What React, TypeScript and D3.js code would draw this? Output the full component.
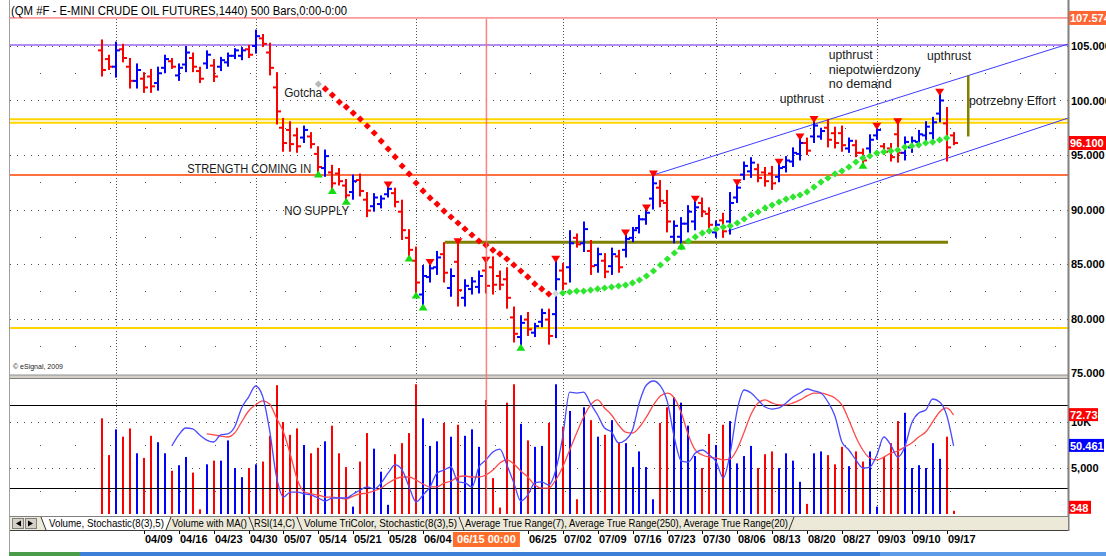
import React from 'react';
import * as d3 from 'd3';

// ---------- DATA ----------
const high = [105.6,104.2,105.4,105.2,103.9,103.4,102.6,102.9,103.1,104.2, 103.9,103.4,105.0,104.4,103.1,104.6,103.8,104.0,104.4,104.8, 104.9,105.1,106.5,106.1,105.3,102.6,98.4,98.1,97.5,97.7, 97.1,95.8,95.5,94.1,93.8,92.8,93.2,93.3,91.6,91.5, 91.3,92.2,92.0,90.9,88.2,86.6,84.9,85.1,86.2,87.0, 84.6,87.0,83.6,83.8,84.4,85.3,85.7,84.4,84.7,81.1, 80.3,80.6,79.6,80.9,80.9,85.4,85.1,88.1,87.8,88.9, 87.2,86.5,86.0,86.5,86.3,87.8,88.4,89.5,90.1,93.2, 92.7,91.8,89.0,89.3,90.4,90.9,91.1,90.2,89.0,89.7, 91.6,92.4,94.4,94.8,94.2,93.9,94.0,94.3,94.9,95.7, 96.6,96.6,98.2,97.5,98.3,97.6,97.7,96.6,96.4,95.6, 96.9,97.6,96.1,96.1,98.0,96.7,96.7,97.3,98.1,98.5, 100.7,99.4,97.1];
const low = [102.2,102.8,102.1,103.5,101.1,101.1,100.7,100.7,100.9,102.5, 102.9,101.8,102.6,102.6,101.6,102.9,101.7,102.7,103.1,103.8, 103.7,103.9,104.3,104.9,102.3,97.8,95.3,95.3,95.2,96.1, 95.6,93.3,93.0,91.8,92.2,90.8,90.9,91.2,89.3,89.8, 90.1,91.1,90.2,87.2,85.6,82.2,81.1,83.3,84.0,83.3, 82.0,81.1,81.1,82.2,82.3,82.3,82.2,82.6,80.9,77.8, 77.4,78.4,78.3,79.2,77.6,78.2,82.6,83.3,86.5,86.1, 84.0,84.2,83.7,84.0,84.2,85.6,87.0,87.8,88.6,90.0, 90.2,87.9,86.9,86.7,87.9,88.1,89.3,88.1,87.4,87.4, 87.7,90.6,92.7,92.9,92.5,92.1,91.8,92.5,93.4,93.9, 94.5,95.0,96.1,96.4,95.7,95.6,95.3,95.2,94.8,94.1, 95.0,96.4,95.0,94.4,94.3,94.5,95.2,95.7,96.2,96.4, 98.0,94.4,95.9];
const open = [104.6,103.8,103.1,104.7,103.1,101.8,102.0,102.2,101.6,103.0, 103.6,102.3,103.3,103.9,102.7,103.4,103.2,103.1,103.5,104.1, 104.1,104.7,105.0,105.7,104.4,101.2,97.5,97.3,96.8,96.6, 96.7,95.1,93.8,93.4,93.3,92.2,91.6,92.7,90.9,90.3, 90.5,91.4,91.5,89.8,87.4,85.3,82.2,83.8,84.7,85.9, 82.8,85.2,81.9,82.7,82.9,84.4,84.7,83.9,83.6,80.1, 78.3,79.9,78.7,79.7,79.9,80.4,84.4,84.7,87.4,86.9, 86.2,84.9,85.3,84.8,85.7,86.3,87.4,88.3,89.1,91.0, 92.0,90.6,87.5,87.5,88.7,88.9,90.6,89.6,87.9,89.0, 88.9,91.1,93.2,93.5,93.7,93.4,93.3,93.0,93.9,94.4, 95.1,96.1,96.7,96.7,97.5,97.0,97.0,95.6,95.9,95.2, 95.6,96.8,95.8,95.6,96.9,95.2,95.7,96.2,96.8,97.0, 98.8,97.9,96.8];
const close = [102.8,103.1,104.6,103.9,101.8,102.8,101.2,101.3,102.5,103.8, 103.1,103.0,104.4,103.1,102.0,104.2,102.2,103.7,104.1,104.6, 104.6,104.2,105.9,105.2,103.0,99.0,96.1,96.0,95.8,97.3, 96.0,93.9,94.9,92.4,92.6,91.3,92.6,91.7,89.9,91.1, 91.0,91.9,90.7,88.1,86.3,83.3,83.9,84.6,85.6,84.2, 83.9,82.6,83.0,83.4,83.9,83.0,83.1,83.1,81.9,78.6, 79.6,79.0,79.3,80.5,78.4,83.6,83.2,86.9,86.8,88.2, 84.8,85.9,84.3,85.9,84.7,87.3,88.1,89.1,89.7,92.4, 90.8,88.9,88.5,88.7,89.8,90.2,89.8,88.6,88.6,88.0, 90.6,92.0,94.0,94.3,92.9,92.6,92.4,93.8,94.5,95.2, 96.1,95.4,97.7,97.2,96.4,96.1,95.9,96.3,95.2,94.5, 96.4,97.3,95.3,94.8,95.2,96.2,96.3,96.9,97.6,98.0, 100.0,95.7,96.1];
const volume = [10400,6400,9200,8400,9300,6600,6100,8500,7800,6600, 4700,5300,6200,4500,500,5400,5800,5800,8000,5000, 4000,5000,5400,5700,8500,14000,10000,8600,9300,7500, 6600,7200,7900,9600,6600,5100,800,5700,8800,7100, 4600,1000,6500,7700,8800,14100,10400,7400,7900,9900, 8400,9700,8500,9200,7300,12400,3900,700,12100,14100, 9800,8000,7300,7400,9900,14100,9500,11200,1600,11600, 10200,8400,8600,10200,7800,7700,5100,6800,5100,1600, 9900,11600,12700,12100,9600,6300,5000,8700,7500,9700, 10100,5500,6300,7400,5000,6500,6800,5000,6600,5800, 3500,1100,6600,6800,6400,5400,7300,5200,6800,5700, 6800,800,6200,7700,10100,11000,5000,5300,5000,7700, 6000,8400,348];
const stochKStart = 10;
const stochK = [50.4,58.4,63.4,62.7,58.4,54.7,53.3,58.4,59.1,64.1, 77.9,85.8,93.8,86.6,62.0,28.0,13.5,17.1,17.1,15.7, 14.9,12.8,10.6,12.8,12.8,12.8,15.7,18.6,20.8,19.3, 23.7,30.9,36.7,33.0,20.8,9.9,15.0,20.8,30.9,33.0, 35.2,24.4,23.7,20.8,35.2,40.3,46.1,48.2,36.7,23.7, 10.6,15.0,23.7,24.4,22.2,33.0,56.9,89.4,88.7,89.4, 80.8,72.8,63.4,60.5,52.6,54.7,62.0,82.2,94.5,97.4, 93.8,82.2,56.2,39.5,38.8,45.3,47.5,43.9,38.8,27.3, 45.3,76.4,90.9,88.7,83.7,78.6,77.1,77.9,81.5,85.8, 88.7,91.6,90.2,88.7,82.2,72.1,53.3,47.5,40.3,34.5, 35.2,43.9,56.9,51.1,42.4,49.7,67.0,74.3,76.4,84.4, 82.2,72.8,50.461];
const stochDStart = 15;
const stochD = [59.1,58.4,57.6,56.9,59.8, 67.8,75.7,80.1,83.0,80.8,70.6,60.5,43.9,25.8,17.1, 15.7,14.9,13.5,13.5,12.8,12.1,14.2,15.7,16.4,17.9, 20.0,23.6,26.5,28.0,28.0,25.8,22.9,20.8,20.8,23.6, 25.1,28.0,28.7,28.0,28.0,29.4,33.0,38.1,40.3,37.4, 32.3,28.0,22.2,20.0,20.0,25.8,35.2,47.5,59.8,71.4, 80.1,83.7,77.9,72.8,65.6,60.5,59.8,64.1,71.4,80.1, 86.6,88.7,85.1,74.3,58.4,47.5,43.9,42.4,41.7,40.3, 41.0,48.2,60.5,73.5,81.5,83.7,81.5,80.1,80.1,81.5, 83.7,86.6,88.7,88.7,87.3,85.1,80.1,69.2,56.9,47.5, 41.7,40.3,42.4,45.3,46.8,49.7,52.6,56.9,60.5,67.8, 75.0,77.9,72.73];
const redDiamondStart = 32;
const redDiamonds = [101.06,100.50,99.86,99.40,98.85,98.30,97.66,97.02,96.28,95.55, 94.82,93.99,93.26,92.43,91.70,91.06,90.50,89.86,89.31,88.76, 88.21,87.66,87.11,86.74,86.28,85.92,85.46,84.91,84.36,83.81, 83.17,82.71,82.25];
const grayDiamonds = [[31, 101.51], [65, 82.3]];
const greenDiamondStart = 66;
const greenDiamonds = [82.34,82.43,82.52,82.52,82.61,82.71,82.80,82.89,82.98,83.07, 83.26,83.53,83.90,84.36,84.91,85.46,86.01,86.56,87.11,87.48, 87.84,88.03,88.21,88.39,88.49,88.76,89.13,89.50,89.77,90.14, 90.41,90.69,90.96,91.15,91.33,91.61,92.06,92.52,92.89,93.26, 93.53,93.90,94.36,94.72,94.91,95.18,95.28,95.37,95.46,95.73, 95.83,95.92,96.10,96.19,96.38,96.56];
const sellSignalBars = [41,47,51,55,65,75,78,79,85,91,97,100,102,111,114,120];
const buySignalBars = [31,33,35,44,45,46,60,83,109];
const tickLabels = ['04/09','04/16','04/23','04/30','05/07','05/14','05/21','05/28','06/04','06/25','07/02','07/09','07/16','07/23','07/30','08/06','08/13','08/20','08/27','09/03','09/10','09/17'];
const tickBars = [6,11,16,21,26,31,36,41,46,61,66,71,76,81,86,91,96,101,106,111,116,121];
const monthStartBars = [2,22,45,66,88,111];
const priceTicks = [105,100,95,90,85,80,75];
const priceMinor = [102.5,97.5,92.5,87.5,82.5,77.5];
const volTicks = [10000,5000];
const volMinor = [7500,2500];
const lastPrice = 96.1;
const topPrice = 107.574;
const purpleLevel = 105.09;
const yellowLevels = [98.28, 97.97, 79.13];
const orangeLevel = 93.17;
const oliveLevel = { from: 49.1, to: 121.2, price: 87.0 };
const oliveEffort = { bar: 124.1, from: 102.3, to: 96.7 };
const channelUpper = [[79, 93.17], [138.4, 105.18]];
const channelLower = [[89.7, 88.03], [138.4, 98.39]];
const crosshairBar = 55;
const annotations = [
  { t: 'Gotcha', bar: 26.1, p: 100.32, len: 38 },
  { t: 'STRENGTH COMING IN', bar: 12.2, p: 93.35, len: 124 },
  { t: 'NO SUPPLY', bar: 26.1, p: 89.5, len: 65 },
  { t: 'upthrust', bar: 97.1, p: 99.77, len: 44 },
  { t: 'upthrust', bar: 104.1, p: 103.81, len: 44 },
  { t: 'niepotwierdzony', bar: 104.1, p: 102.43, len: 92 },
  { t: 'no demand', bar: 104.1, p: 101.15, len: 63 },
  { t: 'upthrust', bar: 118.2, p: 103.72, len: 44 },
  { t: 'potrzebny Effort', bar: 124.2, p: 99.59, len: 87 },
];
const tabs = [
  { t: 'Volume, Stochastic(8(3),5)', x0: 49, len: 115 },
  { t: 'Volume with MA()', x0: 172, len: 75 },
  { t: 'RSI(14,C)', x0: 254, len: 41 },
  { t: 'Volume TriColor, Stochastic(8(3),5)', x0: 304, len: 153 },
  { t: 'Average True Range(7), Average True Range(250), Average True Range(20)', x0: 465, len: 323 },
];

const F = "'Liberation Sans', Arial, sans-serif";
const RED = '#ff0000';
const BLUE = '#0000ff';

export default function App() {
  const L = 10, R = 1068;
  const x = d3.scaleLinear().domain([0, 122]).range([102, 953.6]);
  const y = d3.scaleLinear().domain([75, 105]).range([373, 46]);
  const yS = d3.scaleLinear().domain([0, 100]).range([515.7, 377.4]);
  const yV = d3.scaleLinear().domain([0, 10000]).range([514, 422]);

  const kPath = d3.line<number>().x((_, j) => x(j + stochKStart)).y(d => yS(d)).curve(d3.curveMonotoneX)(stochK) || '';
  const dPath = d3.line<number>().x((_, j) => x(j + stochDStart)).y(d => yS(d)).curve(d3.curveMonotoneX)(stochD) || '';
  const diamond = (cx: number, cy: number, r = 3.6) => `M${cx},${cy - r}L${cx + r},${cy}L${cx},${cy + r}L${cx - r},${cy}Z`;
  const col = (i: number) => (close[i] < open[i] ? RED : BLUE);

  const separators = [
    { x: 41, back: true }, { x: 166, back: false }, { x: 249, back: true },
    { x: 297, back: true }, { x: 459, back: true }, { x: 789, back: false },
  ];

  return (
    <svg width={1106} height={556} style={{ position: 'absolute', left: 0, top: 0, display: 'block', background: '#fff' }} fontFamily={F}>
      <defs>
        <clipPath id="pricePane"><rect x={L} y={18} width={R - L} height={357} /></clipPath>
        <clipPath id="lowerPane"><rect x={L} y={379} width={R - L} height={136} /></clipPath>
      </defs>
      <rect x={0} y={0} width={1106} height={556} fill="#fff" />

      {/* title */}
      <text x={11} y={15} fontSize={12} fill="#000" textLength={336} lengthAdjust="spacingAndGlyphs">(QM #F - E-MINI CRUDE OIL FUTURES,1440) 500 Bars,0:00-0:00</text>

      {/* grid */}
      <g stroke="#505050" strokeWidth={1}>
        {priceTicks.filter(p => p > 75).map(p => (
          <line key={'pg' + p} x1={L} x2={R} y1={Math.round(y(p)) + 0.5} y2={Math.round(y(p)) + 0.5} strokeDasharray="1,6" />
        ))}
        {priceMinor.map(p => (
          <line key={'pm' + p} x1={L} x2={R} y1={Math.round(y(p)) + 0.5} y2={Math.round(y(p)) + 0.5} strokeDasharray="1,34" strokeDashoffset={5} />
        ))}
        {volTicks.map(v => (
          <line key={'vg' + v} x1={L} x2={R} y1={Math.round(yV(v)) + 0.5} y2={Math.round(yV(v)) + 0.5} strokeDasharray="1,6" />
        ))}
        {volMinor.map(v => (
          <line key={'vm' + v} x1={L} x2={R} y1={Math.round(yV(v)) + 0.5} y2={Math.round(yV(v)) + 0.5} strokeDasharray="1,34" strokeDashoffset={5} />
        ))}
        {monthStartBars.map(b => (
          <line key={'mg' + b} x1={Math.round(x(b)) + 0.5} x2={Math.round(x(b)) + 0.5} y1={19} y2={514} strokeDasharray="1,2" />
        ))}
      </g>

      {/* price pane */}
      <g clipPath="url(#pricePane)">
        <line x1={L} x2={R} y1={y(purpleLevel)} y2={y(purpleLevel)} stroke="#b48cf2" strokeWidth={2} />
        {yellowLevels.map((p, k) => (
          <line key={'yl' + k} x1={L} x2={R} y1={y(p)} y2={y(p)} stroke="#ffd400" strokeWidth={2} />
        ))}
        <line x1={L} x2={R} y1={y(orangeLevel)} y2={y(orangeLevel)} stroke="#ff7040" strokeWidth={2} />
        <line x1={x(channelUpper[0][0])} y1={y(channelUpper[0][1])} x2={x(channelUpper[1][0])} y2={y(channelUpper[1][1])} stroke="#3c3cff" strokeWidth={1} />
        <line x1={x(channelLower[0][0])} y1={y(channelLower[0][1])} x2={x(channelLower[1][0])} y2={y(channelLower[1][1])} stroke="#3c3cff" strokeWidth={1} />
        <line x1={x(oliveLevel.from)} x2={x(oliveLevel.to)} y1={y(oliveLevel.price)} y2={y(oliveLevel.price)} stroke="#808000" strokeWidth={3} />
        <line x1={x(oliveEffort.bar)} x2={x(oliveEffort.bar)} y1={y(oliveEffort.from)} y2={y(oliveEffort.to)} stroke="#808000" strokeWidth={2.5} />

        {/* OHLC bars */}
        {high.map((h, i) => {
          const cx = Math.round(x(i));
          const c = col(i);
          return (
            <g key={'b' + i} fill={c}>
              <rect x={cx - 1} y={y(h)} width={2} height={y(low[i]) - y(h)} />
              <rect x={cx - 4} y={y(open[i]) - 1} width={3} height={2} />
              <rect x={cx + 1} y={y(close[i]) - 1} width={3} height={2} />
            </g>
          );
        })}

        {/* diamonds */}
        {redDiamonds.map((p, j) => (
          <path key={'rd' + j} d={diamond(x(j + redDiamondStart), y(p))} fill="#ff0000" />
        ))}
        {grayDiamonds.map(([b, p], j) => (
          <path key={'gd' + j} d={diamond(x(b), y(p))} fill={j === 0 ? '#b8b8b8' : '#d0d8e0'} />
        ))}
        {greenDiamonds.map((p, j) => (
          <path key={'gr' + j} d={diamond(x(j + greenDiamondStart), y(p))} fill="#2ee62e" />
        ))}

        {/* signals */}
        {sellSignalBars.map(b => {
          const cx = x(b), cy = y(high[b]);
          return <path key={'s' + b} d={`M${cx - 4.5},${cy - 4}L${cx + 4.5},${cy - 4}L${cx},${cy + 3}Z`} fill="#ff0000" />;
        })}
        {buySignalBars.map(b => {
          const cx = x(b), cy = y(low[b]);
          return <path key={'u' + b} d={`M${cx - 4.5},${cy + 4}L${cx + 4.5},${cy + 4}L${cx},${cy - 3}Z`} fill="#11dd11" />;
        })}

        {annotations.map((a, k) => (
          <text key={'a' + k} x={x(a.bar)} y={y(a.p)} fontSize={12} fill="#1a1a1a" textLength={a.len} lengthAdjust="spacingAndGlyphs">{a.t}</text>
        ))}
        <text x={13} y={369} fontSize={7} fill="#222">© eSignal, 2009</text>
      </g>
      <line x1={L} x2={R} y1={y(topPrice)} y2={y(topPrice)} stroke="#ff4b4b" strokeWidth={1} />

      {/* pane separator */}
      <rect x={L} y={375} width={R - L} height={3.5} fill="#d4d0c8" />
      <line x1={L} x2={R} y1={375} y2={375} stroke="#909090" />
      <line x1={L} x2={R} y1={378.5} y2={378.5} stroke="#808080" />

      {/* lower pane */}
      <g clipPath="url(#lowerPane)">
        {volume.map((v, i) => (
          <rect key={'v' + i} x={Math.round(x(i)) - 1} y={yV(v)} width={2} height={yV(0) - yV(v)} fill={col(i)} />
        ))}
        <line x1={L} x2={R} y1={Math.round(yS(80)) + 0.5} y2={Math.round(yS(80)) + 0.5} stroke="#000" />
        <line x1={L} x2={R} y1={Math.round(yS(20)) + 0.5} y2={Math.round(yS(20)) + 0.5} stroke="#000" />
        <path d={dPath} fill="none" stroke="#ff4a4a" strokeWidth={1.3} />
        <path d={kPath} fill="none" stroke="#4a4aff" strokeWidth={1.3} />
      </g>

      {/* crosshair */}
      <line x1={x(crosshairBar) + 0.5} x2={x(crosshairBar) + 0.5} y1={19} y2={514} stroke="#ff6a6a" strokeWidth={1.5} opacity={0.85} />

      {/* frame */}
      <line x1={9.5} x2={9.5} y1={0} y2={552} stroke="#a0a0a0" />
      <line x1={R + 0.5} x2={R + 0.5} y1={0} y2={531} stroke="#808080" strokeWidth={2} />

      {/* right axis */}
      {priceTicks.map(p => (
        <text key={'pt' + p} x={1071} y={y(p) + 4} fontSize={11} fontWeight="bold" fill="#000">{p.toFixed(3)}</text>
      ))}
      <rect x={1069} y={y(topPrice) - 7} width={37} height={14} fill="#ff6633" />
      <text x={1070} y={y(topPrice) + 4} fontSize={11} fontWeight="bold" fill="#fff">{topPrice.toFixed(3)}</text>
      <rect x={1069} y={y(lastPrice) - 7} width={37} height={14} fill="#ff0000" />
      <text x={1070} y={y(lastPrice) + 4} fontSize={11} fontWeight="bold" fill="#fff">{lastPrice.toFixed(3)}</text>

      <text x={1071} y={yV(10000) + 4} fontSize={11} fontWeight="bold" fill="#000">10K</text>
      <text x={1071} y={yV(5000) + 4} fontSize={11} fontWeight="bold" fill="#000">5,000</text>
      <rect x={1069} y={yS(stochD[stochD.length - 1]) - 7} width={29} height={13} fill="#ff0000" />
      <text x={1070} y={yS(stochD[stochD.length - 1]) + 4} fontSize={11} fontWeight="bold" fill="#fff">{stochD[stochD.length - 1].toFixed(2)}</text>
      <rect x={1069} y={yS(stochK[stochK.length - 1]) - 7} width={35} height={13} fill="#0000ff" />
      <text x={1070} y={yS(stochK[stochK.length - 1]) + 4} fontSize={11} fontWeight="bold" fill="#fff">{stochK[stochK.length - 1].toFixed(3)}</text>
      <rect x={1069} y={yV(volume[volume.length - 1]) - 10} width={22} height={13} fill="#ff0000" />
      <text x={1070} y={yV(volume[volume.length - 1]) + 1} fontSize={11} fontWeight="bold" fill="#fff">{volume[volume.length - 1]}</text>

      {/* tab bar */}
      <rect x={L} y={516} width={R - L} height={14} fill="#ece9d8" />
      <line x1={L} x2={R} y1={516.5} y2={516.5} stroke="#808080" />
      <line x1={L} x2={R} y1={530.5} y2={530.5} stroke="#404040" />
      <path d="M41,517L46,530L165,530L170,517Z" fill="#fff" />
      <rect x={12.5} y={518.5} width={11} height={10} fill="#d4d0c8" stroke="#808080" />
      <rect x={25.5} y={518.5} width={11} height={10} fill="#d4d0c8" stroke="#808080" />
      <path d="M21,520.5L21,526.5L16,523.5Z" fill="#000" />
      <path d="M28,520.5L28,526.5L33,523.5Z" fill="#000" />
      {separators.map((s, k) => (
        <line key={'sep' + k} x1={s.back ? s.x : s.x + 5} y1={517} x2={s.back ? s.x + 5 : s.x} y2={530} stroke="#303030" />
      ))}
      {tabs.map((t, k) => (
        <text key={'tab' + k} x={t.x0} y={527} fontSize={11} fill="#000" textLength={t.len} lengthAdjust="spacingAndGlyphs">{t.t}</text>
      ))}

      {/* x axis */}
      {tickBars.map((b, k) => (
        <g key={'xt' + k}>
          <line x1={Math.round(x(b)) + 0.5} x2={Math.round(x(b)) + 0.5} y1={531} y2={534} stroke="#000" />
          <text x={Math.round(x(b)) + 1} y={543} fontSize={11} fontWeight="bold" fill="#000">{tickLabels[k]}</text>
        </g>
      ))}
      <rect x={x(crosshairBar) - 33} y={532} width={67} height={15} fill="#ff6f2c" />
      <text x={x(crosshairBar) + 0.5} y={543} fontSize={11} fontWeight="bold" fill="#fff" textAnchor="middle">06/15 00:00</text>

      {/* taskbar strip */}
      <rect x={9} y={552} width={71} height={4} fill="#4a9c4a" />
      <rect x={80} y={552} width={800} height={4} fill="#3c7fd8" />
      <rect x={880} y={552} width={226} height={4} fill="#5b9be8" />
    </svg>
  );
}
